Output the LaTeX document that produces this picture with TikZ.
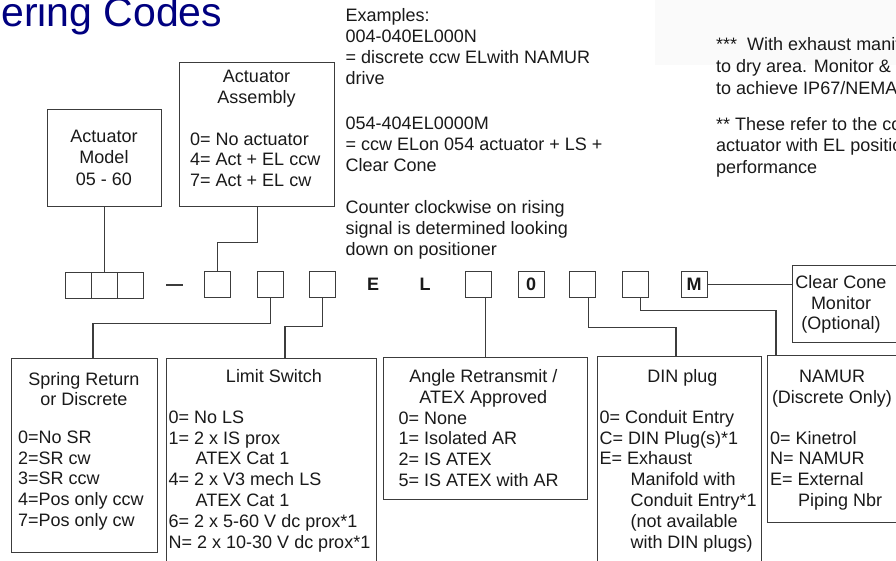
\documentclass[tikz,border=0pt]{standalone}
\usepackage{fontspec}
\setmainfont{Liberation Sans}
\usetikzlibrary{calc}
\definecolor{navyt}{HTML}{000080}
\definecolor{linec}{HTML}{3C3C3C}
\definecolor{textc}{HTML}{1A1A1A}
\begin{document}
\begin{tikzpicture}[x=1pt,y=-1pt,
  box/.style={draw=linec, line width=1.1pt, fill=white, inner sep=0pt, anchor=north west, rectangle},
  cell/.style={box, minimum width=26pt, minimum height=26pt},
  conn/.style={draw=linec, line width=1.1pt},
  tl/.style={font=\fontsize{18}{20.8}\selectfont, text=textc, inner sep=0pt, align=left, anchor=base west},
  tc/.style={font=\fontsize{18}{20.8}\selectfont, text=textc, inner sep=0pt, align=center, anchor=base},
  bt/.style={font=\fontsize{18}{21}\selectfont\bfseries, text=textc, inner sep=0pt, anchor=base}
]
\useasboundingbox (0,0) rectangle (896,560);
\clip (0,0) rectangle (896,560);
\fill[white] (0,0) rectangle (896,560);
\fill[black!2] (655,0) rectangle (896,65);

% title
\node[font=\fontsize{41}{41}\selectfont, text=navyt, inner sep=0pt, anchor=base east] (title) at (222.5,26) {ering Codes};

% upper boxes (text nodes are anchored at the baseline of their last line)
\node[box, minimum width=114pt, minimum height=97pt] (model) at (47,109) {};
\node[box, minimum width=155pt, minimum height=144pt] (assy) at (179,62) {};
\node[tc] (modelt) at (104,185) {Actuator\\[0.4pt]Model\\[0.4pt]05 - 60};
\node[tc] (assyt) at (256.5,103.5) {Actuator\\Assembly};
\node[tl] (assyo) at (190,186.6) {0= No actuator\\4= Act + EL ccw\\7= Act + EL cw};

% code cells
\node[cell] (c1a) at (65,272) {};
\node[cell] (c1b) at (91,272) {};
\node[cell] (c1c) at (117,272) {};
\draw[conn] (166,285) -- (183,285);
\node[cell] (c2) at (204,271) {};
\node[cell] (c3) at (257,271) {};
\node[cell] (c4) at (309,271) {};
\node[bt] (letE) at (373,290.7) {E};
\node[bt] (letL) at (425,290.7) {L};
\node[cell] (c5) at (465,271) {};
\node[cell] (c6) at (518,271) {};
\node[bt] (zero) at (531,290.7) {0};
\node[cell] (c7) at (569,271) {};
\node[cell] (c8) at (622,271) {};
\node[cell] (cM) at (681,271) {};
\node[bt] (em) at (694,290.7) {M};

% clear cone
\node[box, minimum width=108pt, minimum height=77pt] (cone) at (792,265) {};
\node[tc] (conet) at (841,329.9) {Clear Cone\\Monitor\\(Optional)};

% examples text
\node[tl, font=\fontsize{18}{21}\selectfont] (ex1) at (345.5,84) {Examples:\\004-040EL000N\\= discrete ccw ELwith NAMUR\\drive};
\node[tl, font=\fontsize{18}{21}\selectfont] (ex2) at (345.5,171.5) {054-404EL0000M\\= ccw ELon 054 actuator + LS +\\Clear Cone};
\node[tl, font=\fontsize{18}{21}\selectfont] (ex3) at (345.5,255) {Counter clockwise on rising\\signal is determined looking\\down on positioner};

% right notes
\node[tl, font=\fontsize{18}{21.8}\selectfont] (n1) at (716,94.3) {*** \ With exhaust manifold\\to dry area. Monitor \& Cone\\to achieve IP67/NEMA 4};
\node[tl, font=\fontsize{18}{21.8}\selectfont] (n2) at (716,173.6) {** These refer to the combination\\actuator with EL positioner\\performance};

% lower boxes
\node[box, minimum width=146pt, minimum height=194pt] (sr) at (11,358) {};
\node[box, minimum width=210pt, minimum height=215pt] (ls) at (166,358) {};
\node[box, minimum width=204pt, minimum height=142pt] (ar) at (383,357) {};
\node[box, minimum width=164pt, minimum height=215pt] (din) at (597,356) {};
\node[box, minimum width=140pt, minimum height=167pt] (nam) at (767,355) {};

\node[tc] (srt) at (84,405.8) {Spring Return\\or Discrete};
\node[tl] (sro) at (18,526.5) {0=No SR\\2=SR cw\\3=SR ccw\\4=Pos only ccw\\7=Pos only cw};

\node[tc] (lst) at (274,382.7) {Limit Switch};
\node[tl] (lso) at (168.5,548.1) {0= No LS\\1= 2 x IS prox\\\hspace*{27pt}ATEX Cat 1\\4= 2 x V3 mech LS\\\hspace*{27pt}ATEX Cat 1\\6= 2 x 5-60 V dc prox*1\\N= 2 x 10-30 V dc prox*1};

\node[tc] (art) at (483.3,403.5) {Angle Retransmit /\\ATEX Approved};
\node[tl] (aro) at (398.3,486.4) {0= None\\1= Isolated AR\\2= IS ATEX\\5= IS ATEX with AR};

\node[tc] (dint) at (682.5,382.7) {DIN plug};
\node[tl] (dino) at (599.3,548.1) {0= Conduit Entry\\C= DIN Plug(s)*1\\E= Exhaust\\\hspace*{31pt}Manifold with\\\hspace*{31pt}Conduit Entry*1\\\hspace*{31pt}(not available\\\hspace*{31pt}with DIN plugs)};

\node[tc] (namt) at (832,403.5) {NAMUR\\(Discrete Only)};
\node[tl] (namo) at (770,506.4) {0= Kinetrol\\N= NAMUR\\E= External\\\hspace*{28pt}Piping Nbr};

% connectors
\draw[conn] (model.south) -- (c1b.north);
\draw[conn] (assy.south) -- ++(0,35) -| (c2.north);
\draw[conn] (c3.south) -- ++(0,25) -| ($(sr.north west)+(82,0)$);
\draw[conn] (c4.south) -- ++(0,28.5) -| ($(ls.north west)+(119,0)$);
\draw[conn] (ar.north) -- (ar.north |- c5.south);
\draw[conn] ($(c7.south)+(6,0)$) -- ++(0,29) -| ($(din.north west)+(79,0)$);
\draw[conn] ($(c8.south)+(5,0)$) -- ++(0,12) -| ($(nam.north west)+(9,0)$);
\draw[conn] (cM.east) -- (cM.east -| cone.west);
\end{tikzpicture}
\end{document}
